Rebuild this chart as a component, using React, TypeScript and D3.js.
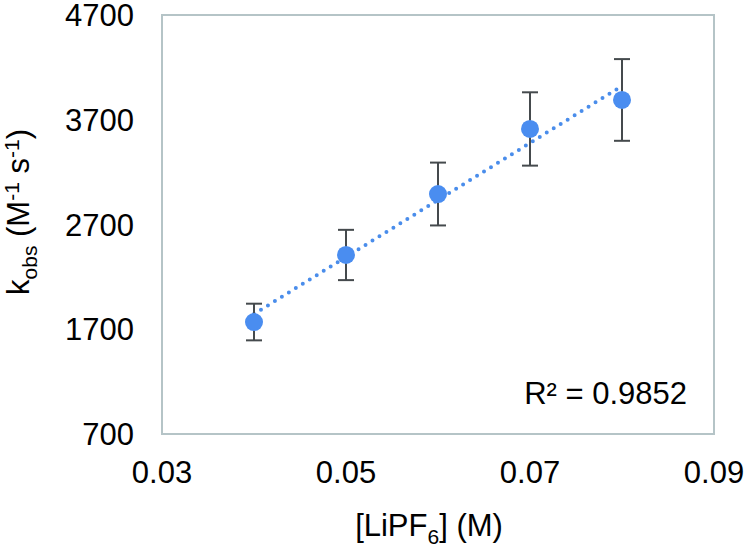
import React from "react";
import * as d3 from "d3";

const concentrations = [0.04, 0.05, 0.06, 0.07, 0.08];
const kobs = [1769, 2409, 2991, 3612, 3889];
const errors = [175, 240, 300, 350, 390];
const xTicks = [0.03, 0.05, 0.07, 0.09];
const yTicks = [700, 1700, 2700, 3700, 4700];
const r2Label = "R² = 0.9852";

export default function App() {
  const W = 746, H = 549;
  const left = 162, right = 714, top = 15, bottom = 434;
  const x = d3.scaleLinear().domain([0.03, 0.09]).range([left, right]);
  const y = d3.scaleLinear().domain([700, 4700]).range([bottom, top]);
  const xm = d3.mean(concentrations)!;
  const ym = d3.mean(kobs)!;
  const slope =
    d3.sum(concentrations.map((c, i) => (c - xm) * (kobs[i] - ym))) /
    d3.sum(concentrations.map((c) => (c - xm) ** 2));
  const intercept = ym - slope * xm;
  const x0 = concentrations[0], x1 = concentrations[concentrations.length - 1];
  const line = d3.line<number>().x((d) => x(d)).y((d) => y(intercept + slope * d));
  const font = "'Liberation Sans', Arial, sans-serif";
  const fs = 31;
  const sfs = 21;
  return (
    <svg width={W} height={H} style={{ position: "absolute", left: 0, top: 0 }} fontFamily={font}>
      <rect x={0} y={0} width={W} height={H} fill="#fff" />
      <rect x={left} y={top} width={right - left} height={bottom - top} fill="none" stroke="#b5c4c7" strokeWidth={2} />
      {yTicks.map((t) => (
        <text key={t} x={134} y={y(t)} dy="0.36em" textAnchor="end" fontSize={fs} fill="#000">{t}</text>
      ))}
      {xTicks.map((t) => (
        <text key={t} x={x(t)} y={483} textAnchor="middle" fontSize={fs} fill="#000">{t}</text>
      ))}
      <path d={line([x0, x1]) || ""} fill="none" stroke="#4a8deb" strokeWidth={4} strokeLinecap="round" strokeDasharray="0 8.2" />
      {concentrations.map((c, i) => (
        <g key={c}>
          <line x1={x(c)} x2={x(c)} y1={y(kobs[i] - errors[i])} y2={y(kobs[i] + errors[i])} stroke="#454a4d" strokeWidth={2} />
          <line x1={x(c) - 8} x2={x(c) + 8} y1={y(kobs[i] - errors[i])} y2={y(kobs[i] - errors[i])} stroke="#454a4d" strokeWidth={2} />
          <line x1={x(c) - 8} x2={x(c) + 8} y1={y(kobs[i] + errors[i])} y2={y(kobs[i] + errors[i])} stroke="#454a4d" strokeWidth={2} />
          <circle cx={x(c)} cy={y(kobs[i])} r={9} fill="#4a8df0" />
        </g>
      ))}
      <text x={687} y={404} textAnchor="end" fontSize={fs} fill="#000">{r2Label}</text>
      <text x={429} y={536} textAnchor="middle" fontSize={fs} fill="#000">
        [LiPF<tspan fontSize={sfs} dy={8}>6</tspan><tspan dy={-8}>] (M)</tspan>
      </text>
      <text transform={`translate(29,212) rotate(-90)`} textAnchor="middle" fontSize={fs} fill="#000">
        k<tspan fontSize={sfs} dy={8}>obs</tspan>
        <tspan dy={-8}> (M</tspan>
        <tspan fontSize={sfs} dy={-10}>-1</tspan>
        <tspan dy={10}> s</tspan>
        <tspan fontSize={sfs} dy={-10}>-1</tspan>
        <tspan dy={10}>)</tspan>
      </text>
    </svg>
  );
}
